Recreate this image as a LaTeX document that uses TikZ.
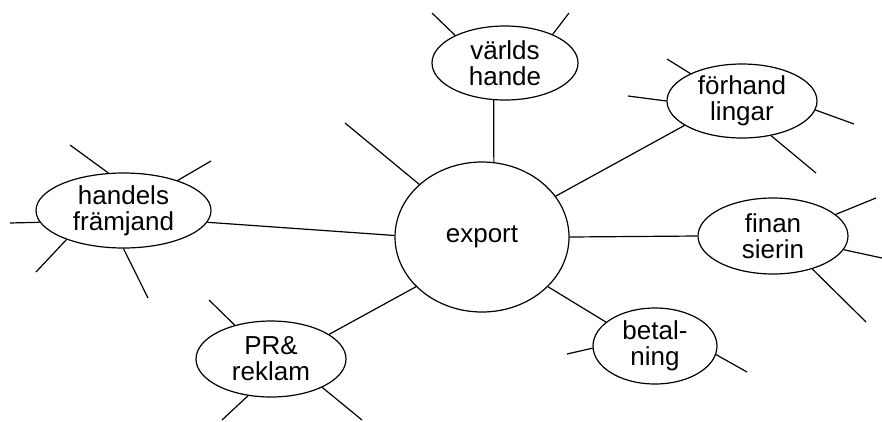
\documentclass[tikz,border=0pt]{standalone}
\usepackage{fontspec}
\setmainfont{Liberation Sans}
\usetikzlibrary{shapes.geometric}
\begin{document}
\begin{tikzpicture}[x=1pt,y=-1pt,
  bubble/.style={ellipse,draw,line width=1.2pt,inner sep=0pt,align=center,
    font=\fontsize{26}{26}\selectfont},
  link/.style={line width=1.2pt}]
\useasboundingbox (0,0) rectangle (882,421);

% central topic and its satellites
\node[bubble,minimum width=174pt,minimum height=150pt] (ex) at (482,237) {export};
\node[bubble,minimum width=146pt,minimum height=74pt] (vh) at (505,63) {v\"arlds\\hande};
\node[bubble,minimum width=150pt,minimum height=74pt] (fh) at (742,101) {f\"orhand\\lingar};
\node[bubble,minimum width=150pt,minimum height=76pt] (fi) at (773,236) {finan\\sierin};
\node[bubble,minimum width=124pt,minimum height=76pt] (be) at (655,346) {betal-\\ning};
\node[bubble,minimum width=150pt,minimum height=76pt] (pr) at (271,359) {PR\&\\reklam};
\node[bubble,minimum width=175pt,minimum height=75pt] (hf) at (123.5,210.5) {handels\\fr\"amjand};

% free ends of the open branches
\coordinate (e1) at (345,123);
\coordinate (v1) at (432,13);
\coordinate (v2) at (569,13);
\coordinate (f1) at (667,59);
\coordinate (f2) at (628,96);
\coordinate (f3) at (854,124);
\coordinate (f4) at (816,173);
\coordinate (n1) at (876,198);
\coordinate (n2) at (882,258);
\coordinate (n3) at (866,322);
\coordinate (b1) at (567,354);
\coordinate (b2) at (747,372);
\coordinate (p1) at (209,300);
\coordinate (p2) at (222,420);
\coordinate (p3) at (362,420);
\coordinate (h1) at (70,145);
\coordinate (h2) at (211,161);
\coordinate (h3) at (10,223);
\coordinate (h4) at (36,272);
\coordinate (h5) at (148,298);

% branches from the centre
\draw[link] (ex.81) -- (vh.253);
\draw[link] (ex.29) -- (fh.203);
\draw[link] (ex.0) -- (fi.180);
\draw[link] (ex.-37) -- (be.154);
\draw[link] (ex.217) -- (pr.23);
\draw[link] (ex.179) -- (hf.-8);
\draw[link] (ex.140) -- (e1);

% open branches of the satellites
\draw[link] (vh.151) -- (v1);
\draw[link] (vh.31) -- (v2);
\draw[link] (fh.152) -- (f1);
\draw[link] (fh.180) -- (f2);
\draw[link] (fh.-7) -- (f3);
\draw[link] (fh.-50) -- (f4);
\draw[link] (fi.19) -- (n1);
\draw[link] (fi.-11) -- (n2);
\draw[link] (fi.-40) -- (n3);
\draw[link] (be.182) -- (b1);
\draw[link] (be.-8) -- (b2);
\draw[link] (pr.137) -- (p1);
\draw[link] (pr.238) -- (p2);
\draw[link] (pr.-29) -- (p3);
\draw[link] (hf.112) -- (h1);
\draw[link] (hf.29) -- (h2);
\draw[link] (hf.188) -- (h3);
\draw[link] (hf.207) -- (h4);
\draw[link] (hf.270) -- (h5);
\end{tikzpicture}
\end{document}
